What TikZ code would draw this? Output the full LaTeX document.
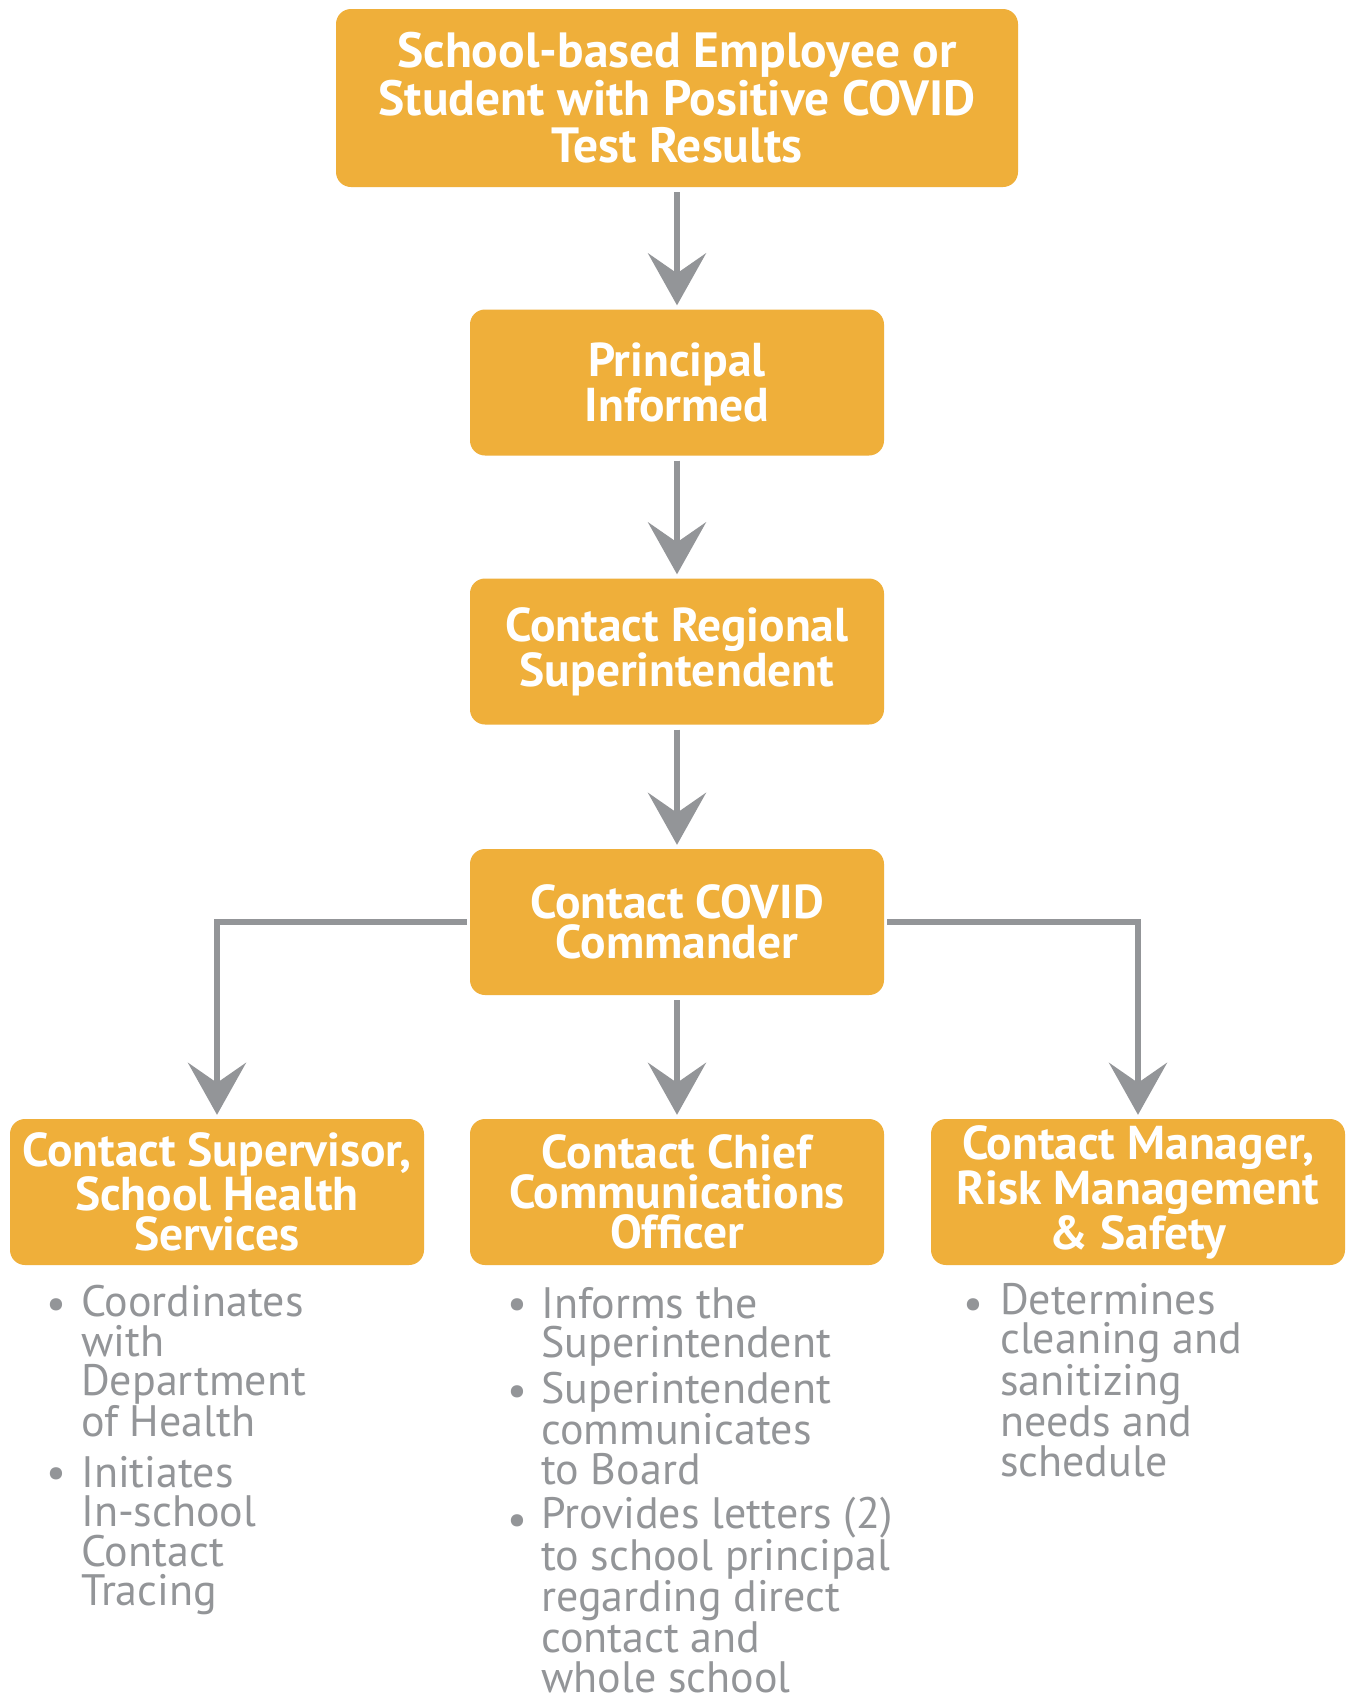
\documentclass[tikz,border=0pt]{standalone}
\usepackage{fontspec}
\setmainfont{PT Sans}
\usetikzlibrary{arrows.meta}
\definecolor{boxc}{HTML}{EFAF3A}
\definecolor{arrc}{HTML}{939598}
\tikzset{
  box/.style={fill=boxc, rounded corners=15pt, text=white, align=center,
    font=\bfseries\fontsize{47.5}{40}\selectfont, minimum width=414pt, minimum height=146pt, inner sep=0pt},
  topbox/.style={box, minimum width=682pt, minimum height=178pt, font=\bfseries\fontsize{49.5}{47.6}\selectfont},
  flow/.style={draw=arrc, line width=5.5pt, -{Stealth[length=52pt,width=58pt,inset=20pt]},
    shorten >=4pt, shorten <=5pt},
  note/.style={text=arrc, font=\fontsize{44}{39.5}\selectfont, align=left, anchor=base west, inner sep=0pt},
  dotm/.style={text=arrc, font=\fontsize{44}{39.5}\selectfont, anchor=base, inner sep=0pt}
}
\begin{document}
\begin{tikzpicture}[x=1pt,y=-1pt]
\useasboundingbox[fill=white] (0,0) rectangle (1348,1695);
\node[topbox] (top) at (677,98) {School-based Employee or\\Student with Positive COVID\\Test Results};
\node[box] (prin) at (677,382.5) {Principal\\Informed};
\node[box] (reg) at (677,651.5) {Contact Regional\\Superintendent};
\node[box] (cmd) at (677,922) {Contact COVID\\Commander};
\node[box] (sup) at (217,1192) {Contact Supervisor,\\School Health\\Services};
\node[box] (cco) at (677,1192) {Contact Chief\\Communications\\Officer};
\node[box] (risk) at (1138,1192) {Contact Manager,\\Risk Management\\\& Safety};

\draw[flow] (top) -- (prin);
\draw[flow] (prin) -- (reg);
\draw[flow] (reg) -- (cmd);
\draw[flow] (cmd) -- (cco);
\draw[flow, shorten <=3pt] (cmd.west) -| (sup.north);
\draw[flow, shorten <=3pt] (cmd.east) -| (risk.north);

% left notes (anchored at the baseline of the last line)
\node[dotm] (b1) at (56,1318) {•};
\node[note] (n1) at (81,1436.5) {Coordinates\\with\\Department\\of Health};
\node[dotm] (b2) at (56,1487) {•};
\node[note] (n2) at (81,1605.5) {Initiates\\In-school\\Contact\\Tracing};
% center notes
\node[dotm] (b3) at (517,1318) {•};
\node[note] (n3) at (541,1357.5) {Informs the\\Superintendent};
\node[dotm] (b4) at (517,1405) {•};
\node[note] (n4) at (541,1484) {Superintendent\\communicates\\to Board};
\node[dotm] (b5) at (517,1534) {•};
\node[note] (n5) at (541,1692) {Provides letters (2)\\to school principal\\regarding direct\\contact and\\whole school};
% right notes
\node[dotm] (b6) at (973,1318) {•};
\node[note] (n6) at (1000,1476) {Determines\\cleaning and\\sanitizing\\needs and\\schedule};
\end{tikzpicture}
\end{document}
